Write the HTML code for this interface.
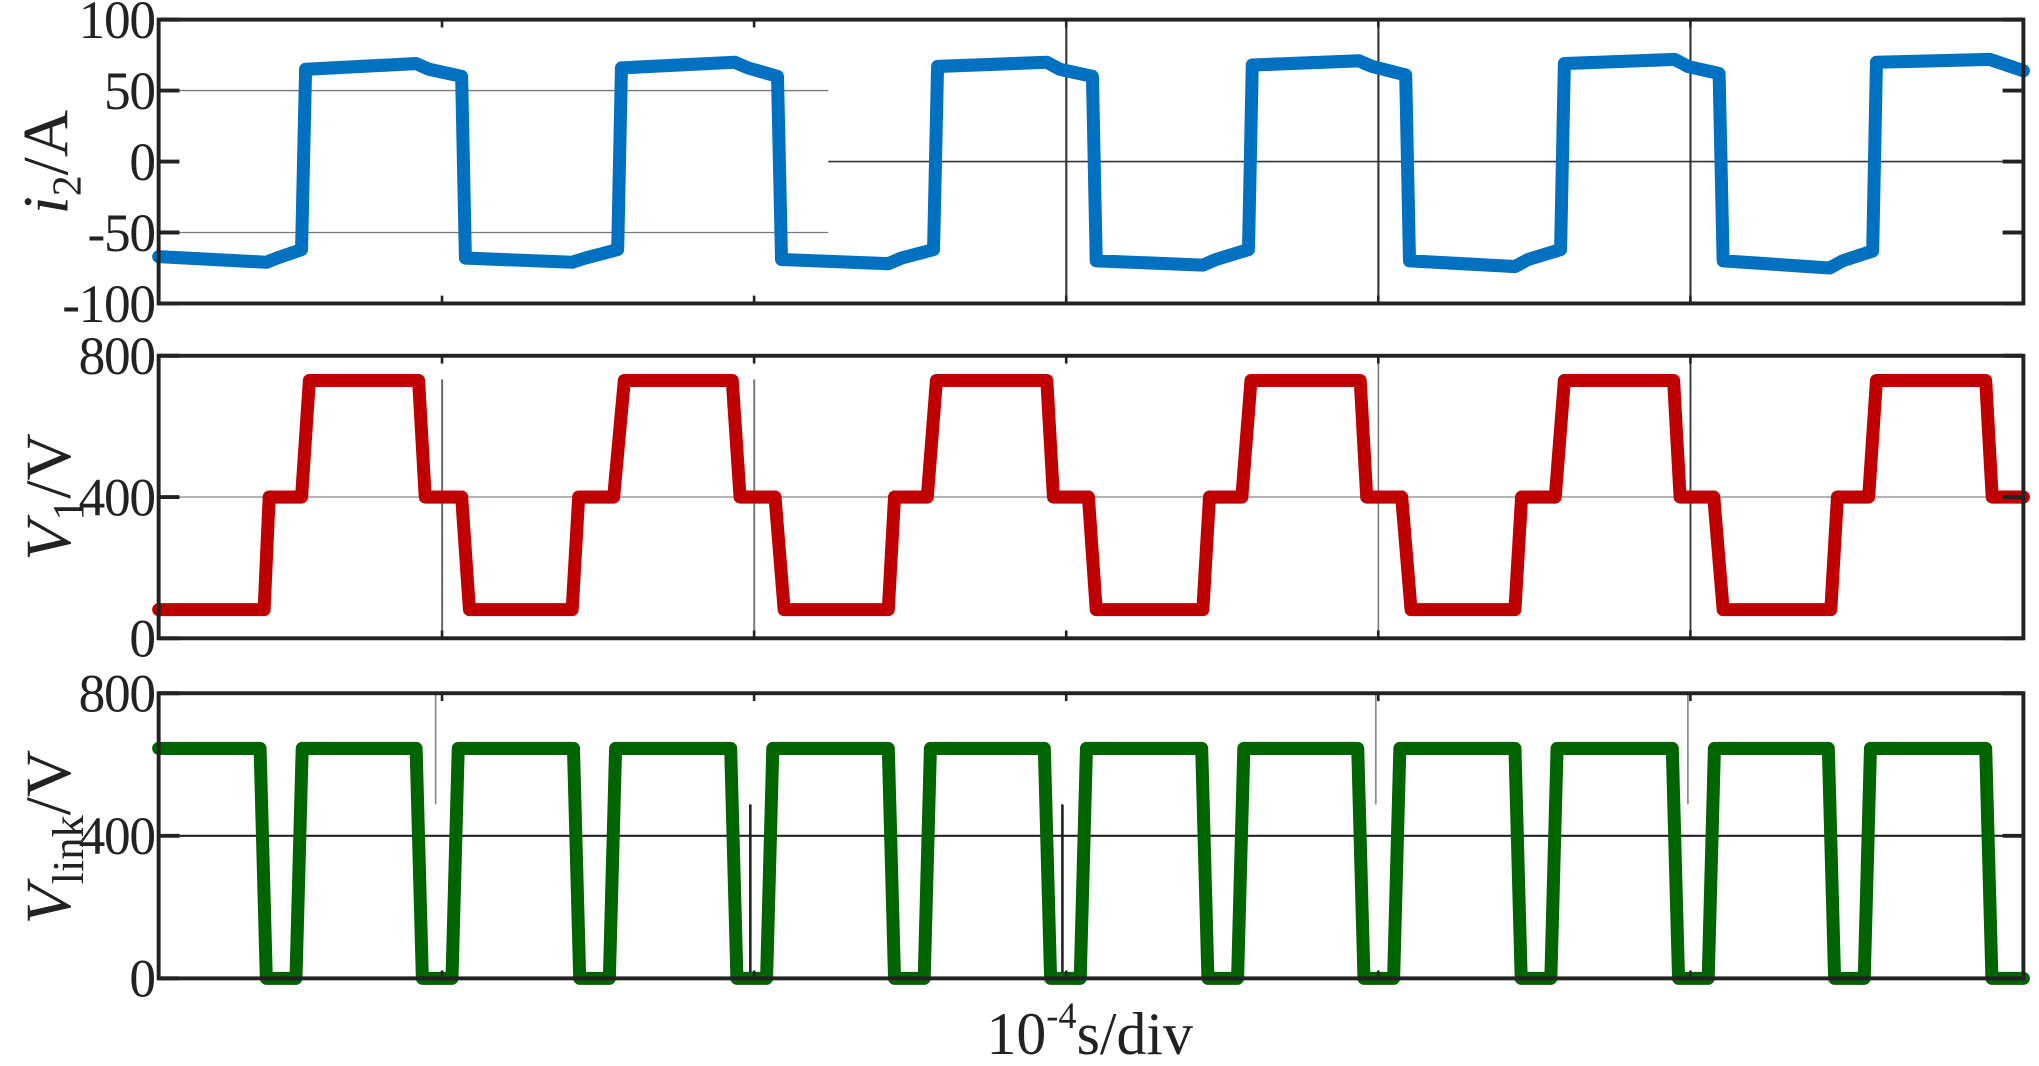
<!DOCTYPE html>
<html><head><meta charset="utf-8"><style>
html,body{margin:0;padding:0;background:#fff;}
svg{display:block;}
text{font-family:"Liberation Serif",serif;fill:#222;}
</style></head><body>
<svg id="chart" width="2039" height="1066" viewBox="0 0 1568 815" preserveAspectRatio="none" xmlns="http://www.w3.org/2000/svg">
<g id="g"></g>
</svg>
<script>
// ---- data (time in microseconds, 100 us/div) ----
const i2T = [0,34.6,37.9,45.8,47.1,82.5,86.7,97.1,98.3,132.5,136.7,147.1,148.3,184.6,188.8,198.3,199.6,233.8,238,248.3,249.6,284.6,288.8,299.2,300.4,334.6,338.8,349.2,350.4,384.6,388.8,399.6,400.8,434.6,438.8,449.2,450.4,485.8,490,500,501.3,535.4,539.6,549.2,550.4,586.7,597.5];
const i2V = [-67,-71,-68,-62,65,69,65,60,-68,-71,-68,-62,66,70,66,60,-69,-72,-68,-62,67,70,65,60,-70,-73,-69,-62,68,71,67,61,-70,-74,-69,-62,69,72,67,62,-70,-75,-70,-63,70,72,64];
const v1T = [0,33.8,35.4,45.8,48.3,83.3,85.4,97.1,99.6,132.5,134.6,145.8,149.2,183.8,186.3,197.5,200.4,233.8,235.8,246.3,249.2,284.6,286.7,297.9,300.4,334.6,336.7,347.1,350,385,387.1,398.3,401.3,434.6,436.7,447.5,450.4,485.4,487.5,498.3,501.3,535.8,537.9,547.9,550.4,585.4,587.5,597.5];
const v1V = [81,81,400,400,730,730,400,400,81,81,400,400,730,730,400,400,81,81,400,400,730,730,400,400,81,81,400,400,730,730,400,400,81,81,400,400,730,730,400,400,81,81,400,400,730,730,400,400];
const vlT = [0,32.5,34.5,44,46,82.5,84.5,94,96,132.9,134.9,144.4,146.4,183.3,185.3,194.8,196.8,233.8,235.8,245.3,247.3,283.8,285.8,295.3,297.3,334.2,336.2,345.7,347.7,384.2,386.2,395.7,397.7,434.6,436.6,446.1,448.1,485,487,496.5,498.5,535,537,546.5,548.5,585.4,587.4,597.5];
const vlV = [645,645,0,0,645,645,0,0,645,645,0,0,645,645,0,0,645,645,0,0,645,645,0,0,645,645,0,0,645,645,0,0,645,645,0,0,645,645,0,0,645,645,0,0,645,645,0,0];
const i2Ticks = [100,50,0,-50,-100];
const v1Ticks = [800,400,0];
const vlTicks = [800,400,0];
const xTicks = [90.8,190.8,290.8,390.8,490.8];

const NS="http://www.w3.org/2000/svg";
const g=document.getElementById('g');
const X0=122,X1=1556,T0=0,T1=597.5;
const xs=t=>X0+(t-T0)/(T1-T0)*(X1-X0);
function mk(tag,attrs,name,parent){const e=document.createElementNS(NS,tag);for(const k in attrs)e.setAttribute(k,attrs[k]);


(parent||g).appendChild(e);return e;}
function line(x1,y1,x2,y2,sw,col,name){return mk('line',{x1,y1,x2,y2,stroke:col,'stroke-width':sw},name);}

const panels=[
 {top:15,bot:232,min:-100,max:100,ticks:i2Ticks,T:i2T,V:i2V,col:'#0070c0',name:'i2'},
 {top:272,bot:488,min:0,max:800,ticks:v1Ticks,T:v1T,V:v1V,col:'#c00000',name:'v1'},
 {top:530,bot:748,min:0,max:800,ticks:vlTicks,T:vlT,V:vlV,col:'#006400',name:'vlink'}
];
panels.forEach((p,pi)=>{
 const ys=v=>p.bot-(v-p.min)/(p.max-p.min)*(p.bot-p.top);
 if(pi===0){
  line(X0,ys(50),637,ys(50),1,'#777','grid-50');
  line(X0,ys(-50),637,ys(-50),1,'#777','grid-minus50');
  line(637,ys(0),X1,ys(0),1.2,'#333','grid-zero');
  [820,1060,1300].forEach(x=>line(x,p.top,x,p.bot,1.6,'#333','vertical-marker'));
 } else if(pi===1){
  line(X0,ys(400),X1,ys(400),1,'#888','grid-400');
  line(340,290,340,p.bot,1.5,'#666','vertical-marker');
  line(580,290,580,p.bot,1.5,'#777','vertical-marker');
  line(1060,278,1060,p.bot,1.2,'#777','vertical-marker');
  line(1300,p.top,1300,p.bot,1.4,'#333','vertical-marker');
 } else {
  line(X0,ys(400),X1,ys(400),1.6,'#222','grid-400');
  [335,1058,1298].forEach(x=>line(x,p.top,x,615,1.3,'#888','vertical-marker'));
  [577,817].forEach(x=>line(x,615,x,p.bot,2,'#222','vertical-marker'));
 }
 let d='';p.T.forEach((t,i)=>{d+=(i?'L':'M')+xs(t).toFixed(1)+','+ys(p.V[i]).toFixed(1);});
 mk('path',{d,fill:'none',stroke:p.col,'stroke-width':10,'stroke-linejoin':'round','stroke-linecap':'round'},p.name+'-trace');
 mk('rect',{x:X0,y:p.top,width:X1-X0,height:p.bot-p.top,fill:'none',stroke:'#222','stroke-width':3},p.name+'-plot-frame');
 p.ticks.forEach(v=>{
  const y=ys(v);
  line(X0,y,X0+16,y,3,'#222','y-tick');
  line(X1-16,y,X1,y,3,'#222','y-tick');
  const t=mk('text',{x:119,y:y+14,'text-anchor':'end','font-size':41,'letter-spacing':'-1'},'y-tick-label');t.textContent=v;
 });
 xTicks.forEach(tv=>{const x=xs(tv);line(x,p.top,x,p.top+6,2,'#222','x-tick');line(x,p.bot-6,x,p.bot,2,'#222','x-tick');});
});
function ylabel(cx,cy,html,name){
 const t=mk('text',{x:0,y:0,'font-size':50,'text-anchor':'middle',transform:`translate(${cx},${cy}) rotate(-90)`},name);
 t.innerHTML=html;
}
ylabel(52,124,'<tspan font-style="italic">i</tspan><tspan font-size="32" dy="10">2</tspan><tspan dy="-10">/A</tspan>','y-axis-title-i2');
ylabel(54,380,'<tspan font-style="italic">V</tspan><tspan font-size="34" dy="10">1</tspan><tspan dy="-10">/V</tspan>','y-axis-title-v1');
ylabel(54,640,'<tspan font-style="italic">V</tspan><tspan font-size="34" dy="10">link</tspan><tspan dy="-10">/V</tspan>','y-axis-title-vlink');
const xt=mk('text',{x:838,y:806,'font-size':46,'text-anchor':'middle'},'x-axis-title');
xt.innerHTML='10<tspan font-size="28" dy="-20">-4</tspan><tspan dy="20">s/div</tspan>';
</script>
</body></html>
